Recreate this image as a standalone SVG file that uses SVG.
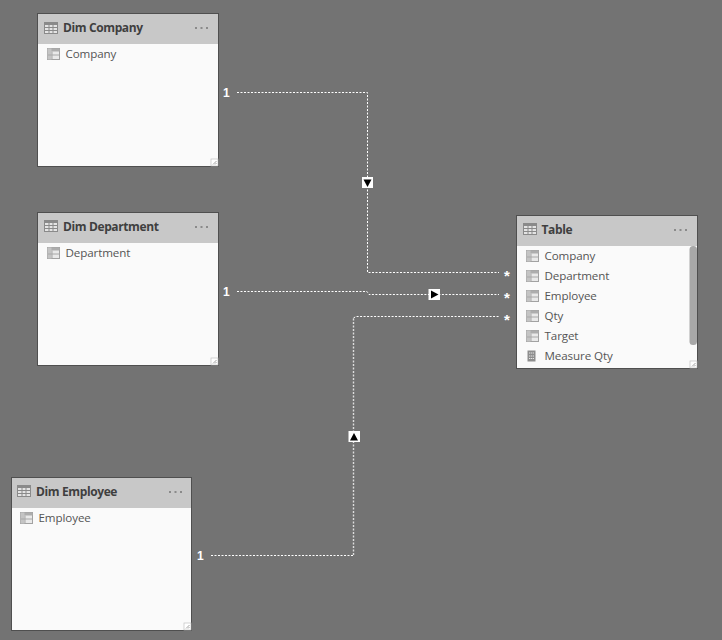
<svg xmlns="http://www.w3.org/2000/svg" width="722" height="640" viewBox="0 0 722 640">
<style>
text{font-family:"Open Sans","Noto Sans","Liberation Sans",sans-serif}
.card{fill:#fafafa;stroke:#4f4f4f;stroke-width:1}
.head{fill:#c8c8c8}
.title{font-size:12px;font-weight:700;fill:#3f3f3f;letter-spacing:-.38px}
.field{font-size:11.6px;fill:#555;letter-spacing:-.1px}
.dots{fill:#8a8a8a}
.conn{fill:none;stroke:#fff;stroke-width:1;stroke-dasharray:2 1.5}
.vert{fill:none;stroke:#ddd;stroke-width:1.4;stroke-dasharray:2 1.5}
.one{font-size:12px;font-weight:700;fill:#fff;font-family:"Liberation Sans",sans-serif}
.star{font-size:15px;font-weight:700;fill:#fff;font-family:"Liberation Sans",sans-serif}
.badge{fill:#fff}
.tri{fill:#000}
.grip{fill:none;stroke:#8a8a8a;stroke-width:.8}
</style>
<defs>
<g id="ticon"><rect x="0" y="0" width="13" height="11" fill="#e4e4e4" stroke="#8a8a8a"/><rect x="0" y="0" width="13" height="2.500" fill="#8a8a8a"/><path d="M0.500 5H12.500M0.500 8H12.500M4.500 2V10.500M8.500 2V10.500" stroke="#8a8a8a" stroke-width="1" fill="none"/></g>
<g id="ficon"><rect x="0" y="0" width="12" height="11" fill="#e9e9e9" stroke="#a2a2a2"/><rect x="0" y="0" width="12" height="3" fill="#adadad"/><rect x="0" y="0" width="4" height="11" fill="#c4c4c4"/><path d="M0.500 6.500H11.500M4.500 3V10.500" stroke="#a8a8a8" stroke-width="1" fill="none"/></g>
<g id="more"><rect x="0" y="0" width="2" height="2" class="dots"/><rect x="5.500" y="0" width="2" height="2" class="dots"/><rect x="11" y="0" width="2" height="2" class="dots"/></g>
<g id="grip"><rect x="0" y="0" width="7" height="7" fill="#fff" stroke="#c2c2c2" stroke-width=".7"/><path d="M2 5.500L5.500 2M4 5.500L5.500 4" class="grip"/></g>
</defs>
<rect width="722" height="640" fill="#737373"/>
<g id="connectors">
<path class="conn" d="M237 92.500H367.500V272.500H499"/>
<path class="conn" d="M237 291.500H367L369 294.500H499"/>
<path class="conn" d="M211 555.500H353.500"/>
<path class="vert" d="M353.500 555V318"/>
<path class="conn" d="M353.500 318L356 316.500H499"/>
<text class="one" x="223" y="96.500">1</text>
<text class="one" x="223" y="295.500">1</text>
<text class="one" x="197" y="560">1</text>
<text class="star" x="504" y="281">*</text>
<text class="star" x="504" y="303">*</text>
<text class="star" x="504" y="325">*</text>
<rect class="badge" x="362" y="177" width="11" height="11"/><path class="tri" d="M363.500 179.500H371.500L367.500 187Z"/>
<rect class="badge" x="428.500" y="289" width="11.500" height="11"/><path class="tri" d="M431 290.500V298.500L438.500 294.500Z"/>
<rect class="badge" x="348.500" y="431" width="11.500" height="11"/><path class="tri" d="M354 433L350 440.500H358Z"/>
</g>
<g id="dim-company">
<rect class="card" x="37.500" y="13.500" width="181" height="153"/>
<rect class="head" x="38" y="14" width="180" height="30"/>
<use href="#ticon" x="44.500" y="22.500"/>
<text class="title" x="63" y="32">Dim Company</text>
<use href="#more" x="195" y="27"/>
<use href="#ficon" x="47.500" y="48.500"/>
<text class="field" x="65.500" y="58">Company</text>
<use href="#grip" x="211" y="159"/>
</g>
<g id="dim-department">
<rect class="card" x="37.500" y="212.500" width="181" height="153"/>
<rect class="head" x="38" y="213" width="180" height="30"/>
<use href="#ticon" x="44.500" y="220.500"/>
<text class="title" x="63" y="231">Dim Department</text>
<use href="#more" x="195" y="226"/>
<use href="#ficon" x="47.500" y="247.500"/>
<text class="field" x="65.500" y="257">Department</text>
<use href="#grip" x="211" y="358"/>
</g>
<g id="dim-employee">
<rect class="card" x="11.500" y="477.500" width="180" height="153"/>
<rect class="head" x="12" y="478" width="179" height="30"/>
<use href="#ticon" x="17.500" y="485.500"/>
<text class="title" x="36" y="496">Dim Employee</text>
<use href="#more" x="169" y="491"/>
<use href="#ficon" x="20.500" y="512.500"/>
<text class="field" x="38.500" y="522">Employee</text>
<use href="#grip" x="184" y="623"/>
</g>
<g id="table">
<rect class="card" x="516.500" y="215.500" width="181" height="153"/>
<rect class="head" x="517" y="216" width="180" height="30"/>
<use href="#ticon" x="523.500" y="223.500"/>
<text class="title" x="541.500" y="234">Table</text>
<use href="#more" x="674" y="229"/>
<use href="#ficon" x="526.500" y="250.500"/>
<text class="field" x="544.500" y="260">Company</text>
<use href="#ficon" x="526.500" y="270.500"/>
<text class="field" x="544.500" y="280">Department</text>
<use href="#ficon" x="526.500" y="290.500"/>
<text class="field" x="544.500" y="300">Employee</text>
<use href="#ficon" x="526.500" y="310.500"/>
<text class="field" x="544.500" y="320">Qty</text>
<use href="#ficon" x="526.500" y="330.500"/>
<text class="field" x="544.500" y="340">Target</text>
<rect x="527.500" y="350.500" width="8" height="11" fill="#8e8e8e"/>
<path d="M529 353H534M529 356H534M529 358.500H534" stroke="#e5e5e5" stroke-width="1" stroke-dasharray="1.300 .6" fill="none"/>
<text class="field" x="544.500" y="360">Measure Qty</text>
<rect x="689.500" y="246" width="7.500" height="99" rx="3.500" fill="#a8a8a8"/>
<use href="#grip" x="690" y="361"/>
</g>
</svg>
